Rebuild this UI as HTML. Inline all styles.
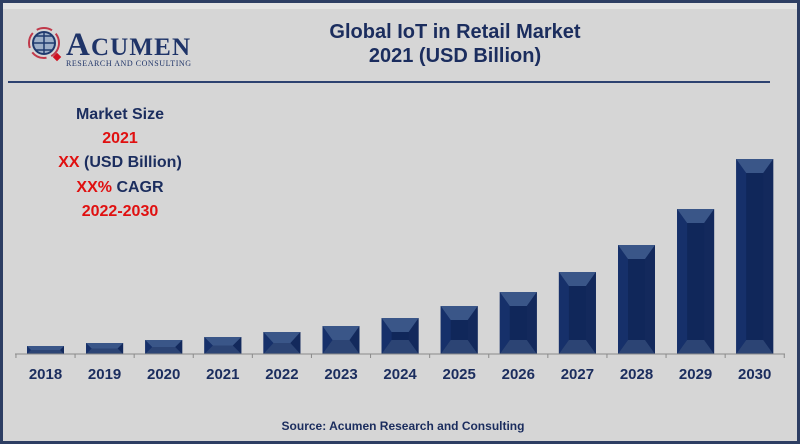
<!DOCTYPE html>
<html><head><meta charset="utf-8"><style>
body{margin:0;background:#d6d6d6;}
svg{display:block;font-family:"Liberation Sans",Arial,sans-serif;}
</style></head><body>
<svg id="chart" width="800" height="444" viewBox="0 0 800 444">
<rect x="1.5" y="1.5" width="797" height="441" fill="#d6d6d6" stroke="#2d3e63" stroke-width="3"/>
<rect x="3" y="3" width="794" height="6" fill="#e4e4e4"/>
<g>
<circle cx="44" cy="43" r="15" fill="none" stroke="#c0394a" stroke-width="2" stroke-dasharray="16 5"/>
<circle cx="44" cy="43" r="11" fill="#9eb0c8" stroke="#1f3a6e" stroke-width="2"/>
<path d="M33 43h22M44 32v22M36 36h16M36 50h16" stroke="#1f3a6e" stroke-width="1.5" fill="none"/>
<rect x="54" y="54" width="6" height="6" fill="#d01020" transform="rotate(45 57 57)"/>
<text x="66" y="55" font-family="Liberation Serif,serif" font-size="33" font-weight="bold" fill="#1f3468" textLength="124">A<tspan font-size="25">CUMEN</tspan></text>
<text x="66" y="66" font-family="Liberation Serif,serif" font-size="8" fill="#1f3468" textLength="125">RESEARCH AND CONSULTING</text>
</g>
<text x="455" y="38" text-anchor="middle" font-size="20" font-weight="bold" fill="#1b2d5e">Global IoT in Retail Market</text>
<text x="455" y="62" text-anchor="middle" font-size="20" font-weight="bold" fill="#1b2d5e">2021 (USD Billion)</text>
<line x1="8" y1="82" x2="770" y2="82" stroke="#2d4270" stroke-width="2"/>
<g font-size="16" font-weight="bold" text-anchor="middle">
<text x="120" y="119" fill="#1b2d5e">Market Size</text>
<text x="120" y="143" fill="#e01010">2021</text>
<text x="120" y="167" fill="#1b2d5e"><tspan fill="#e01010">XX</tspan> (USD Billion)</text>
<text x="120" y="192" fill="#1b2d5e"><tspan fill="#e01010">XX%</tspan> CAGR</text>
<text x="120" y="216" fill="#e01010">2022-2030</text>
</g>
<g id="bars"></g>
<g id="axis"></g>
<text x="403" y="430" text-anchor="middle" font-size="12" font-weight="bold" fill="#1b2d5e">Source: Acumen Research and Consulting</text>
</svg>
<script>
const categories=["2018","2019","2020","2021","2022","2023","2024","2025","2026","2027","2028","2029","2030"];
const values=[8,11,14,17,22,28,36,48,62,82,109,145,195];
const NS="http://www.w3.org/2000/svg";
const baseY=354, x0=45.5, step=59.1, bw=37;
function xPos(i){return x0+i*step;}
function yPos(v){return baseY-v*1.0;}
function mk(tag,attrs,parent){const e=document.createElementNS(NS,tag);for(const k in attrs)e.setAttribute(k,attrs[k]);parent.appendChild(e);return e;}
const bars=document.getElementById('bars'), axis=document.getElementById('axis');
mk('line',{x1:15,y1:baseY,x2:785,y2:baseY,stroke:'#8a8a8a','stroke-width':1},axis);
for(let i=0;i<=categories.length;i++){const tx=x0-step/2+i*step;mk('line',{x1:tx,y1:baseY,x2:tx,y2:baseY+4,stroke:'#8a8a8a'},axis);}
values.forEach((v,i)=>{
  const cx=xPos(i), l=cx-bw/2, r=cx+bw/2, t=yPos(v), b=baseY;
  const g=mk('g',{},bars);
  
  
  const d=Math.min(14,(b-t)/2), s=Math.min(10,d);
  mk('rect',{x:l,y:t,width:bw,height:b-t,fill:'#10275a'},g);
  mk('polygon',{points:`${l},${t} ${l+s},${t+d} ${l+s},${b-d} ${l},${b}`,fill:'#16306a'},g);
  mk('polygon',{points:`${r},${t} ${r-s},${t+d} ${r-s},${b-d} ${r},${b}`,fill:'#13295c'},g);
  mk('polygon',{points:`${l},${t} ${r},${t} ${r-s},${t+d} ${l+s},${t+d}`,fill:'#3a5688'},g);
  mk('polygon',{points:`${l},${b} ${r},${b} ${r-s},${b-d} ${l+s},${b-d}`,fill:'#2c4474'},g);
  const lab=mk('text',{x:cx,y:379,'text-anchor':'middle','font-size':15,'font-weight':'bold',fill:'#1b2d5e'},axis);
  
  
  lab.textContent=categories[i];
});
</script>
</body></html>
